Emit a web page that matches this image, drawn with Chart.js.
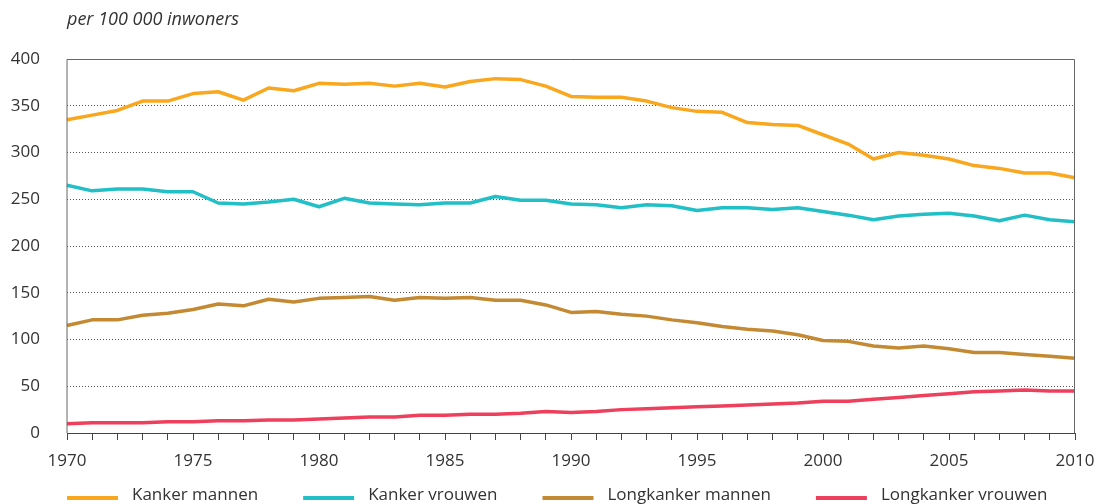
<!DOCTYPE html>
<html>
<head>
<meta charset="utf-8">
<script src="https://cdn.jsdelivr.net/npm/chart.js@4/dist/chart.umd.min.js"></script>
<style>
  html, body { margin: 0; padding: 0; background: #fff; }
  #wrap { width: 1098px; height: 504px; }
</style>
</head>
<body>
<div id="wrap"><canvas id="myChart" width="1098" height="504"></canvas></div>
<script>
// jaren 1970 - 2010
var years = [];
for (var y = 1970; y <= 2010; y++) years.push(String(y));

var kankerMannen = [335, 340, 345, 355, 355, 363, 365, 356, 369, 366,
  374, 373, 374, 371, 374, 370, 376, 379, 378, 371,
  360, 359, 359, 355, 348, 344, 343, 332, 330, 329,
  319, 309, 293, 300, 297, 293, 286, 283, 278, 278, 273];

var kankerVrouwen = [265, 259, 261, 261, 258, 258, 246, 245, 247, 250,
  242, 251, 246, 245, 244, 246, 246, 253, 249, 249,
  245, 244, 241, 244, 243, 238, 241, 241, 239, 241,
  237, 233, 228, 232, 234, 235, 232, 227, 233, 228, 226];

var longMannen = [115, 121, 121, 126, 128, 132, 138, 136, 143, 140,
  144, 145, 146, 142, 145, 144, 145, 142, 142, 137,
  129, 130, 127, 125, 121, 118, 114, 111, 109, 105,
  99, 98, 93, 91, 93, 90, 86, 86, 84, 82, 80];

var longVrouwen = [10, 11, 11, 11, 12, 12, 13, 13, 14, 14,
  15, 16, 17, 17, 19, 19, 20, 20, 21, 23,
  22, 23, 25, 26, 27, 28, 29, 30, 31, 32,
  34, 34, 36, 38, 40, 42, 44, 45, 46, 45, 45];

var yTicks = [0, 50, 100, 150, 200, 250, 300, 350, 400];
var seriesNames = ["Kanker mannen", "Kanker vrouwen", "Longkanker mannen", "Longkanker vrouwen"];
var colors = ["#F9A71E", "#22BFC6", "#C48A33", "#EE3F5C"];

var font = "'Open Sans', sans-serif";

// subtitel, kader en legenda zelf tekenen
var extras = {
  id: "extras",
  afterDraw: function(chart) {
    var ctx = chart.ctx;
    var a = chart.chartArea;
    ctx.save();
    ctx.strokeStyle = "#666";
    ctx.lineWidth = 1;
    ctx.beginPath();
    ctx.moveTo(a.left, a.bottom);
    ctx.lineTo(a.left, a.top + 0.5);
    ctx.lineTo(a.right - 0.5, a.top + 0.5);
    ctx.lineTo(a.right - 0.5, a.bottom);
    ctx.stroke();

    ctx.fillStyle = "#333";
    ctx.font = "italic 18px " + font;
    ctx.textBaseline = "middle";
    ctx.textAlign = "left";
    ctx.fillText("per 100 000 inwoners", 67, 20);

    ctx.font = "17px " + font;
    var x = 67;
    chart.data.datasets.forEach(function(ds) {
      ctx.strokeStyle = ds.borderColor;
      ctx.lineWidth = 4;
      ctx.beginPath();
      ctx.moveTo(x, 498);
      ctx.lineTo(x + 51, 498);
      ctx.stroke();
      ctx.fillStyle = "#333";
      ctx.fillText(ds.label, x + 65, 495);
      x += 65 + ctx.measureText(ds.label).width + 45;
    });
    ctx.restore();
  }
};

new Chart("myChart", {
  type: "line",
  data: {
    labels: years,
    datasets: [
      { label: seriesNames[0], data: kankerMannen, borderColor: colors[0] },
      { label: seriesNames[1], data: kankerVrouwen, borderColor: colors[1] },
      { label: seriesNames[2], data: longMannen, borderColor: colors[2] },
      { label: seriesNames[3], data: longVrouwen, borderColor: colors[3] }
    ]
  },
  options: {
    responsive: false,
    animation: false,
    layout: { padding: { top: 59, right: 23, left: 0, bottom: 0 } },
    elements: {
      line: { borderWidth: 3.5, tension: 0, borderJoinStyle: "round" },
      point: { radius: 0 }
    },
    plugins: {
      legend: { display: false },
      title: { display: false },
      tooltip: { enabled: false }
    },
    scales: {
      x: {
        type: "category",
        offset: false,
        afterFit: function(s) { s.height = 71; s.paddingLeft = 0; s.paddingRight = 0; },
        grid: { display: true, drawOnChartArea: false, drawTicks: true, tickLength: 7, tickColor: "#444", offset: false },
        border: { display: true, color: "#444", width: 1 },
        ticks: {
          autoSkip: false,
          maxRotation: 0,
          padding: 11,
          color: "#333",
          font: { family: font, size: 17 },
          callback: function(v, i) {
            var lab = this.getLabelForValue(v);
            return (Number(lab) % 5 === 0) ? lab : "";
          }
        }
      },
      y: {
        min: 0,
        max: 400,
        afterFit: function(s) { s.width = 67; },
        afterBuildTicks: function(s) { s.ticks = yTicks.map(function(v) { return { value: v }; }); },
        grid: {
          drawTicks: false,
          lineWidth: 1,
          color: function(c) { return (c.tick && (c.tick.value === 0 || c.tick.value === 400)) ? "rgba(0,0,0,0)" : "#555"; }
        },
        border: { display: false, dash: [1, 2] },
        ticks: {
          padding: 27,
          color: "#333",
          font: { family: font, size: 17 }
        }
      }
    }
  },
  plugins: [extras]
});
</script>
</body>
</html>
